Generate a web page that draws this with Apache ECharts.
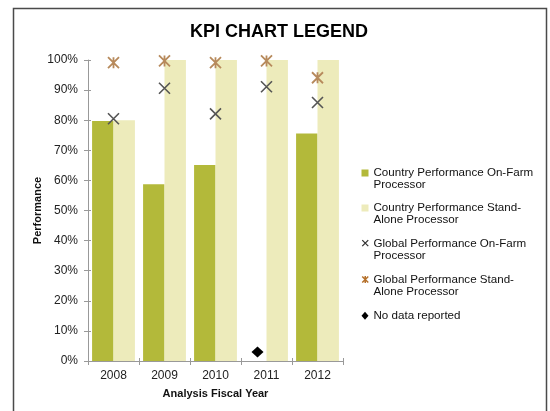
<!DOCTYPE html>
<html>
<head>
<meta charset="utf-8">
<title>KPI Chart Legend</title>
<script src="https://cdn.jsdelivr.net/npm/echarts@6/dist/echarts.min.js"></script>
<style>
  html, body { margin: 0; padding: 0; background: #fff; }
  #chart { width: 550px; height: 411px; }
</style>
</head>
<body>
<div id="chart"></div>
<script>
// fiscal years on the x axis
const categories = ['2008', '2009', '2010', '2011', '2012']
// values in percent
const countryOnFarm = [79.7, 58.7, 65.1, null, 75.6]
const countryStandAlone = [80, 100, 100, 100, 100]
const globalOnFarm = [80.5, 90.6, 82.1, 91.1, 85.9]
const globalStandAlone = [99.1, 99.7, 99.1, 99.7, 94.1]
const noDataReported = [null, null, null, 3, null]

const FONT = "'Liberation Sans', Arial, Helvetica, sans-serif"
const GREEN = '#b3b93a'
const PALE = '#edebbb'
const GREY_X = '#555555'
const TAN_X = '#b78a5c'

// marker shapes
const xMark = 'path://M0,0L10,10M10,0L0,10'
const starMark = 'path://M0,0L10,10M10,0L0,10M5,0L5,10'

// legend icons: 7x24 box, shape sits next to the first text line
const iconSquare = 'path://M0,0L0.01,0L0,0.01ZM0,2.5L7,2.5L7,9.5L0,9.5ZM0,24L0.01,24L0,23.99Z'
const iconX = 'path://M0,0L0.01,0M0.5,2.5L6.5,8.5M6.5,2.5L0.5,8.5M0,24L0.01,24'
const iconStar = 'path://M0,0L0.01,0M0.5,2.5L6.5,8.5M6.5,2.5L0.5,8.5M3.5,2L3.5,9M0,24L0.01,24'
const iconDiamond = 'path://M0,0L0.01,0L0,0.01ZM3.5,2L7,6L3.5,10L0,6ZM0,24L0.01,24L0,23.99Z'

const legendText = {
  'Country Performance On-Farm Processor': 'Country Performance On-Farm\nProcessor',
  'Country Performance Stand-Alone Processor': 'Country Performance Stand-\nAlone Processor',
  'Global Performance On-Farm Processor': 'Global Performance On-Farm\nProcessor',
  'Global Performance Stand-Alone Processor': 'Global Performance Stand-\nAlone Processor',
  'No data reported': 'No data reported\n '
}

const chart = echarts.init(document.getElementById('chart'), null, { renderer: 'canvas' })

const option = {
  backgroundColor: '#ffffff',
  animation: false,
  textStyle: { fontFamily: FONT },
  title: {
    text: 'KPI CHART LEGEND',
    left: 279,
    textAlign: 'center',
    top: 23,
    padding: 0,
    textStyle: { fontFamily: FONT, fontSize: 18, fontWeight: 'bold', color: '#000' }
  },
  graphic: [
    {
      type: 'rect',
      silent: true,
      z: -10,
      shape: { x: 13.5, y: 8.5, width: 533, height: 440 },
      style: { fill: 'none', stroke: '#4a4a4a', lineWidth: 1.5 }
    }
  ],
  legend: {
    orient: 'vertical',
    left: 361,
    top: 167,
    padding: 0,
    itemWidth: 7,
    itemHeight: 24,
    itemGap: 11,
    selectedMode: false,
    textStyle: { fontFamily: FONT, fontSize: 11.6, color: '#111', lineHeight: 12 },
    formatter: function (name) {
      return legendText[name] || name
    },
    data: [
      { name: 'Country Performance On-Farm Processor', icon: iconSquare },
      { name: 'Country Performance Stand-Alone Processor', icon: iconSquare },
      {
        name: 'Global Performance On-Farm Processor', icon: iconX,
        itemStyle: { color: 'rgba(0,0,0,0)', borderColor: '#333', borderWidth: 1.3 }
      },
      {
        name: 'Global Performance Stand-Alone Processor', icon: iconStar,
        itemStyle: { color: 'rgba(0,0,0,0)', borderColor: '#b5702a', borderWidth: 1.5 }
      },
      { name: 'No data reported', icon: iconDiamond }
    ]
  },
  grid: { left: 88, right: 207, top: 60, bottom: 50, containLabel: false },
  xAxis: [
    {
      type: 'category',
      data: categories,
      name: 'Analysis Fiscal Year',
      nameLocation: 'middle',
      nameGap: 27,
      nameTextStyle: { fontFamily: FONT, fontSize: 11, fontWeight: 'bold', color: '#111' },
      axisLine: { lineStyle: { color: '#999', width: 1 } },
      axisTick: { show: true, length: 4, lineStyle: { color: '#999' } },
      axisLabel: { fontFamily: FONT, fontSize: 12, color: '#222', margin: 9 },
      splitLine: { show: false }
    },
    {
      // upper half of the crossing ticks
      type: 'category',
      data: categories,
      position: 'top',
      offset: -301,
      axisLine: { show: false },
      axisTick: { show: true, length: 3, lineStyle: { color: '#999' } },
      axisLabel: { show: false },
      splitLine: { show: false }
    }
  ],
  yAxis: [
    {
      type: 'value',
      min: 0,
      max: 100,
      interval: 10,
      name: 'Performance',
      nameLocation: 'middle',
      nameGap: 44,
      nameRotate: 90,
      nameTextStyle: { fontFamily: FONT, fontSize: 11, fontWeight: 'bold', color: '#111' },
      axisLine: { show: true, lineStyle: { color: '#999', width: 1 } },
      axisTick: { show: true, length: 4, lineStyle: { color: '#999' } },
      axisLabel: { fontFamily: FONT, fontSize: 12, color: '#222', margin: 10, formatter: '{value}%' },
      splitLine: { show: false }
    },
    {
      // right half of the crossing ticks
      type: 'value',
      min: 0,
      max: 100,
      interval: 10,
      position: 'right',
      offset: -255,
      axisLine: { show: false },
      axisTick: { show: true, length: 3, lineStyle: { color: '#999' } },
      axisLabel: { show: false },
      splitLine: { show: false }
    }
  ],
  series: [
    {
      name: 'Country Performance On-Farm Processor',
      type: 'bar',
      data: countryOnFarm,
      barGap: '0%',
      barCategoryGap: '16%',
      itemStyle: { color: GREEN },
      z: 2
    },
    {
      name: 'Country Performance Stand-Alone Processor',
      type: 'bar',
      data: countryStandAlone,
      barGap: '0%',
      barCategoryGap: '16%',
      itemStyle: { color: PALE },
      z: 2
    },
    {
      name: 'Global Performance On-Farm Processor',
      type: 'scatter',
      data: globalOnFarm,
      symbol: xMark,
      symbolSize: 11,
      itemStyle: { color: 'rgba(0,0,0,0)', borderColor: GREY_X, borderWidth: 1.6, opacity: 1 },
      z: 5
    },
    {
      name: 'Global Performance Stand-Alone Processor',
      type: 'scatter',
      data: globalStandAlone,
      symbol: starMark,
      symbolSize: 11,
      itemStyle: { color: 'rgba(0,0,0,0)', borderColor: TAN_X, borderWidth: 1.8, opacity: 1 },
      z: 5
    },
    {
      name: 'No data reported',
      type: 'scatter',
      data: noDataReported,
      symbol: 'diamond',
      symbolSize: [12, 11],
      symbolOffset: [-9, 0],
      itemStyle: { color: '#000', opacity: 1 },
      z: 5
    }
  ]
}

chart.setOption(option)
</script>
</body>
</html>
